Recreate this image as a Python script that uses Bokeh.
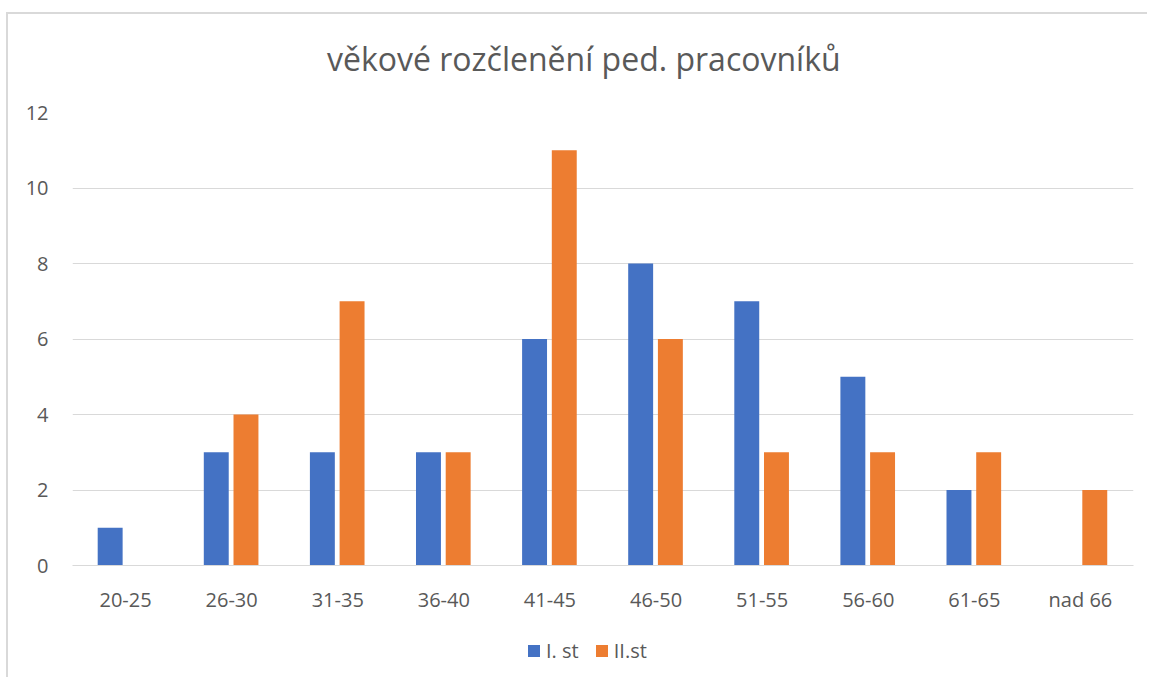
from bokeh.plotting import figure
from bokeh.layouts import column
from bokeh.models import ColumnDataSource, FactorRange, Legend, LegendItem, SingleIntervalTicker, Range1d, Div
from bokeh.transform import dodge
from bokeh.embed import file_html
from bokeh.resources import INLINE

categories = ["20-25", "26-30", "31-35", "36-40", "41-45", "46-50", "51-55", "56-60", "61-65", "nad 66"]
series_1 = [1, 3, 3, 3, 6, 8, 7, 5, 2, 0]
series_2 = [0, 4, 7, 3, 11, 6, 3, 3, 3, 2]
series_names = ["I. st", "II.st"]
series_colors = ["#4472C4", "#ED7D31"]
title_text = "věkové rozčlenění ped. pracovníků"

FONT = "Open Sans"
TXT = "#595959"
GRID = "#d9d9d9"
BORDER = "2px solid #d9d9d9"

# title strip
title_div = Div(text=f'<span style="display:block; padding-top:29px; padding-left:319px; '
                     f'font-family:\'Open Sans\'; font-size:32px; line-height:32px; color:{TXT}; '
                     f'white-space:nowrap;">{title_text}</span>',
                width=1141, height=78)
title_div.margin = (12, 0, 0, 6)
title_div.styles = {"border-top": BORDER, "border-left": BORDER}

src = ColumnDataSource(dict(cat=categories, s1=series_1, s2=series_2))

p = figure(x_range=FactorRange(*categories), y_range=Range1d(0, 12),
           width=1141, height=525, output_backend="svg", toolbar_location=None,
           min_border_left=64, min_border_right=16, min_border_top=22, min_border_bottom=50)
p.margin = (0, 0, 0, 6)
p.styles = {"border-left": BORDER}

p.vbar(x=dodge("cat", -0.145, range=p.x_range), top="s1", width=0.235, source=src,
       fill_color=series_colors[0], line_color=None)
p.vbar(x=dodge("cat", 0.135, range=p.x_range), top="s2", width=0.235, source=src,
       fill_color=series_colors[1], line_color=None)

p.outline_line_color = None
p.xgrid.grid_line_color = None
p.ygrid.grid_line_color = GRID
p.ygrid.grid_line_width = 1

p.yaxis.ticker = SingleIntervalTicker(interval=2)
p.yaxis.axis_line_color = None
p.yaxis.major_tick_line_color = None
p.yaxis.minor_tick_line_color = None
p.yaxis.major_label_text_font = FONT
p.yaxis.major_label_text_font_size = "20px"
p.yaxis.major_label_text_color = TXT
p.yaxis.major_label_standoff = 18

p.xaxis.axis_line_color = GRID
p.xaxis.major_tick_line_color = None
p.xaxis.minor_tick_line_color = None
p.xaxis.major_label_text_font = FONT
p.xaxis.major_label_text_font_size = "20px"
p.xaxis.major_label_text_color = TXT
p.xaxis.major_label_standoff = 14

# legend strip below the chart (legend renderers hold one point outside the visible range)
leg_src = ColumnDataSource(dict(x=[-5], top=[0]))
p2 = figure(width=1141, height=62, output_backend="svg", toolbar_location=None,
            min_border=0, x_range=Range1d(0, 1), y_range=Range1d(0, 1),
            x_axis_type=None, y_axis_type=None)
p2.margin = (0, 0, 0, 6)
p2.styles = {"border-left": BORDER}
p2.grid.visible = False
p2.outline_line_color = None
lr1 = p2.vbar(x="x", top="top", width=0.1, source=leg_src, fill_color=series_colors[0], line_color=None)
lr2 = p2.vbar(x="x", top="top", width=0.1, source=leg_src, fill_color=series_colors[1], line_color=None)

legend = Legend(items=[LegendItem(label=series_names[0], renderers=[lr1]),
                       LegendItem(label=series_names[1], renderers=[lr2])],
                orientation="horizontal", location=(454, 13),
                label_text_font=FONT, label_text_font_size="20px", label_text_color=TXT,
                glyph_width=15, glyph_height=15, label_standoff=5, spacing=15,
                border_line_color=None, background_fill_alpha=0, margin=0, padding=0)
p2.add_layout(legend, "center")

layout = column(title_div, p, p2, spacing=0)
open("out.html", "w").write(file_html(layout, INLINE))
